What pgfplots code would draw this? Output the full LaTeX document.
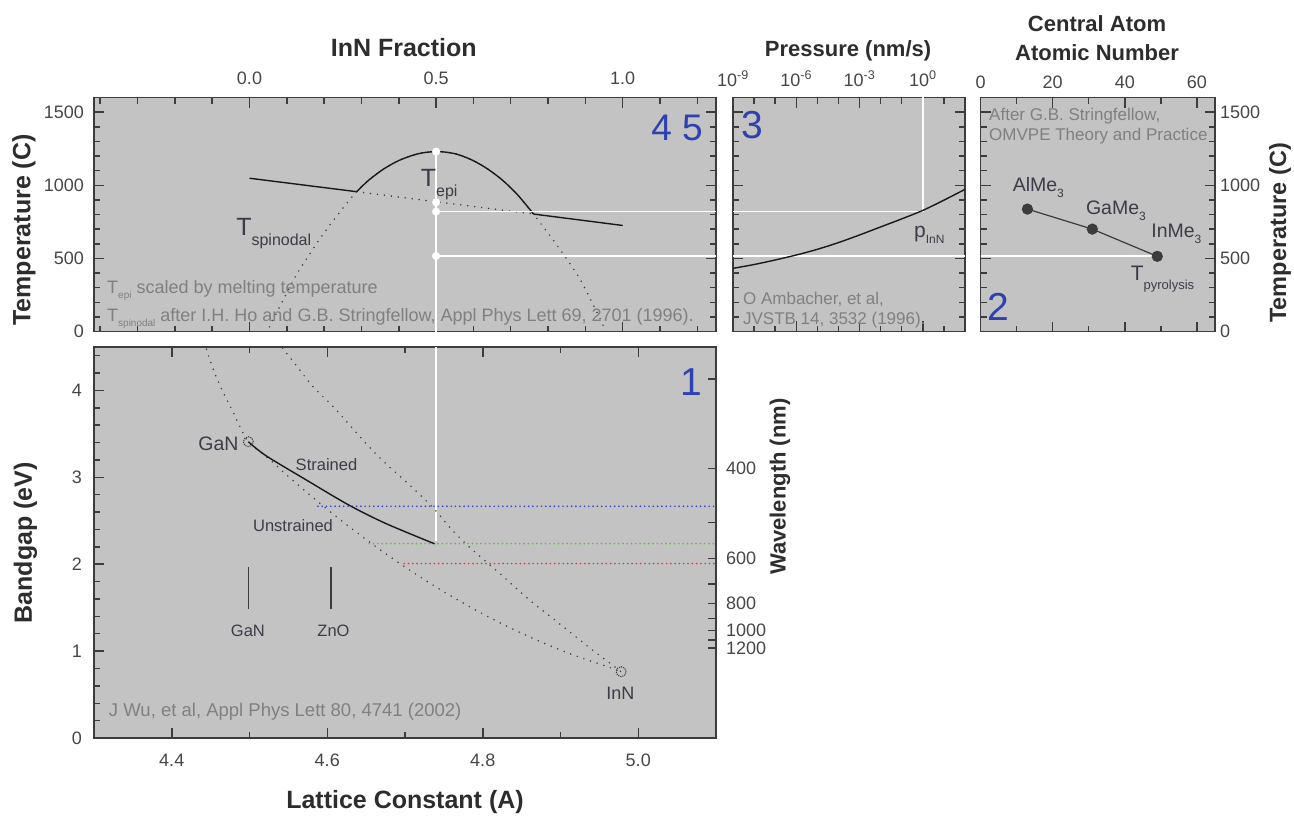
\documentclass[border=0pt]{standalone}
\usepackage{pgfplots}
\pgfplotsset{compat=1.18}
\usepackage{fontspec}
\setmainfont{Liberation Sans}
\definecolor{bg}{RGB}{195,195,195}
\definecolor{frame}{RGB}{60,60,60}
\definecolor{tickc}{RGB}{70,70,70}
\definecolor{lab}{RGB}{45,45,45}
\definecolor{note}{RGB}{128,128,128}
\definecolor{num}{RGB}{45,65,175}
\definecolor{crv}{RGB}{25,25,25}
\definecolor{dotc}{RGB}{60,60,60}
\definecolor{ann}{RGB}{60,60,72}
\definecolor{lblue}{RGB}{55,75,205}
\definecolor{lgreen}{RGB}{85,195,60}
\definecolor{lred}{RGB}{235,55,55}
\newcommand{\fs}[1]{\fontsize{#1}{#1}\selectfont}
\newcommand{\sbx}[3]{\raisebox{-#1}{\fs{#2}#3}}
\pgfplotsset{
  panel/.style={scale only axis, anchor=south west,
    axis background/.style={fill=bg},
    axis line style={frame, line width=1.8pt},
    tick style={frame, line width=1.5pt},
    major tick length=10pt, minor tick length=6pt,
    tick align=inside,
    tick label style={font=\fs{18}, text=tickc, inner sep=0pt},
    label style={font=\fs{25}\bfseries, text=lab},
  },
  dotl/.style={dotc, line width=1.7pt, line cap=round, dash pattern=on 0pt off 7pt},
  cdot/.style={line width=1.9pt, line cap=round, dash pattern=on 0pt off 4.3pt},
  wline/.style={white, line width=1.6pt},
  wdot/.style={only marks, mark=*, mark size=3.8pt, mark options={fill=white, draw=white}},
}
\begin{document}
\begin{tikzpicture}
\useasboundingbox (0,0) rectangle (1294pt,-816pt);

% ---------------- Panel 4 5 (InN fraction vs temperature)
\begin{axis}[panel, at={(94pt,-331.5pt)}, width=622pt, height=234pt,
  xmin=-0.416667, xmax=1.25, ymin=0, ymax=1600,
  xtick={0,0.5,1}, xticklabels={0.0,0.5,1.0},
  minor xtick={-0.4,-0.3,-0.2,-0.1,0.1,0.2,0.3,0.4,0.6,0.7,0.8,0.9,1.1,1.2},
  xticklabel pos=upper, xticklabel style={yshift=13pt},
  ytick={0,500,1000,1500}, yticklabels={0,500,1000,1500},
  minor ytick={100,200,300,400,600,700,800,900,1100,1200,1300,1400},
  yticklabel style={xshift=-10pt},
  xlabel={InN Fraction}, xlabel style={at={(axis description cs:0.498,1.212)}, anchor=center},
  ylabel={Temperature (C)}, ylabel style={at={(axis description cs:-0.1125,0.434)}, anchor=center},
]
% spinodal (dotted, full)
\addplot[dotl, smooth] coordinates {(0.045,-10) (0.054,33) (0.09,215) (0.125,385) (0.16,525) (0.197,665) (0.24,810) (0.287,956) (0.32,1036) (0.36,1112) (0.40,1169) (0.44,1207) (0.47,1224) (0.502,1230) (0.53,1225) (0.56,1209) (0.60,1168) (0.64,1108) (0.68,1030) (0.72,930) (0.761,803) (0.80,672) (0.833,557) (0.887,352) (0.945,56) (0.955,-5)};
% T_epi line dotted part
\addplot[dotl] coordinates {(0.287,956) (0.761,803)};
% solid parts
\addplot[crv, line width=1.4pt] coordinates {(0,1048) (0.287,956)};
\addplot[crv, line width=1.4pt, smooth] coordinates {(0.287,956) (0.32,1036) (0.36,1112) (0.40,1169) (0.44,1207) (0.47,1224) (0.502,1230) (0.53,1225) (0.56,1209) (0.60,1168) (0.64,1108) (0.68,1030) (0.72,930) (0.761,803)};
\addplot[crv, line width=1.4pt] coordinates {(0.761,803) (1,725)};
% white guide lines
\addplot[wline] coordinates {(0.5,1230) (0.5,0)};
\addplot[wline] coordinates {(0.5,820) (1.25,820)};
\addplot[wline] coordinates {(0.5,516) (1.25,516)};
\addplot[wdot] coordinates {(0.5,1230) (0.5,884) (0.5,820) (0.5,516)};
% texts
\node[anchor=center, font=\fs{37}, text=num] at (axis cs:1.1455,1391) {4 5};
\node[anchor=base west, inner sep=0pt, text=ann] at (axis cs:0.4587,993) {{\fs{25}T}\sbx{10pt}{16}{epi}};
\node[anchor=base west, inner sep=0pt, text=ann] at (axis cs:-0.0359,655) {{\fs{25}T}\sbx{10pt}{16}{spinodal}};
\node[anchor=base west, inner sep=0pt, text=note] at (axis cs:-0.3818,263) {{\fs{18}T}\sbx{5pt}{10}{epi}{\fs{18} scaled by melting temperature}};
\node[anchor=base west, inner sep=0pt, text=note] at (axis cs:-0.3818,65) {{\fs{18}T}\sbx{5pt}{10}{spinodal}{\fs{18} after I.H. Ho and G.B. Stringfellow, Appl Phys Lett 69, 2701 (1996).}};
\end{axis}

% ---------------- Panel 3 (pressure)
\begin{axis}[panel, at={(733pt,-331.5pt)}, width=232pt, height=234pt,
  xmode=log, xmin=1e-9, xmax=1e2, ymin=0, ymax=1600,
  xtick={1e-9,1e-6,1e-3,1}, xticklabels={10\textsuperscript{-9},10\textsuperscript{-6},10\textsuperscript{-3},10\textsuperscript{0}},
  minor xtick={1e-8,1e-7,1e-5,1e-4,1e-2,1e-1,1e1},
  xticklabel pos=upper, xticklabel style={yshift=11pt},
  ytick={0,500,1000,1500}, yticklabels={,,,},
  minor ytick={100,200,300,400,600,700,800,900,1100,1200,1300,1400},
  xlabel={Pressure (nm/s)}, xlabel style={font=\fs{22}\bfseries, at={(axis description cs:0.496,1.198)}, anchor=center},
]
\addplot[wline] coordinates {(1e-9,820) (1,820) (1,1700)};
\addplot[wline] coordinates {(1e-9,516) (1e2,516)};
\addplot[crv, line width=1.4pt, smooth] coordinates {(1e-9,432) (1e-8,458) (1e-7,489) (1e-6,523) (1e-5,562) (1e-4,608) (1e-3,660) (1e-2,715) (1e-1,770) (1,828) (1e1,898) (1e2,972)};
\node[anchor=center, font=\fs{39}, text=num] at (axis cs:7.9e-9,1412) {3};
\node[anchor=base west, inner sep=0pt, text=ann] at (axis cs:0.38,646) {{\fs{21}p}\sbx{6pt}{12}{InN}};
\node[anchor=base west, inner sep=0pt, text=note, font=\fs{17}] at (axis cs:2.95e-9,188) {O Ambacher, et al,};
\node[anchor=base west, inner sep=0pt, text=note, font=\fs{17}] at (axis cs:2.95e-9,51) {JVSTB 14, 3532 (1996).};
\end{axis}

% ---------------- Panel 2 (central atom)
\begin{axis}[panel, at={(980.5pt,-331.5pt)}, width=234.5pt, height=234pt,
  xmin=0, xmax=65, ymin=0, ymax=1600,
  xtick={0,20,40,60}, xticklabels={0,20,40,60}, minor xtick={10,30,50},
  xticklabel pos=upper, xticklabel style={yshift=9pt},
  ytick={0,500,1000,1500}, yticklabels={0,500,1000,1500},
  minor ytick={100,200,300,400,600,700,800,900,1100,1200,1300,1400},
  yticklabel pos=right, yticklabel style={xshift=5pt},
  xlabel={\begin{tabular}{c}Central Atom\\[7pt]Atomic Number\end{tabular}},
  xlabel style={font=\fs{22}\bfseries, at={(axis description cs:0.497,1.241)}, anchor=center},
  ylabel={Temperature (C)}, ylabel style={font=\fs{23.5}\bfseries, at={(axis description cs:1.277,0.421)}, anchor=center},
]
\addplot[wline] coordinates {(0,516) (49,516)};
\addplot[crv!85, line width=1.2pt, mark=*, mark size=5pt, mark options={fill=crv!85, draw=crv!85}] coordinates {(13,837) (31,700) (49,514)};
\node[anchor=base west, inner sep=0pt, text=ann] at (axis cs:8.9,954) {{\fs{19.5}AlMe}\sbx{6pt}{12}{3}};
\node[anchor=base west, inner sep=0pt, text=ann] at (axis cs:29.2,797) {{\fs{19.5}GaMe}\sbx{6pt}{12}{3}};
\node[anchor=base west, inner sep=0pt, text=ann] at (axis cs:47.3,646) {{\fs{19.5}InMe}\sbx{6pt}{12}{3}};
\node[anchor=base west, inner sep=0pt, text=ann] at (axis cs:41.6,349) {{\fs{21}T}\sbx{9pt}{13}{pyrolysis}};
\node[anchor=base west, inner sep=0pt, text=note, font=\fs{17}] at (axis cs:2.36,1445) {After G.B. Stringfellow,};
\node[anchor=base west, inner sep=0pt, text=note, font=\fs{17}] at (axis cs:2.36,1308) {OMVPE Theory and Practice};
\node[anchor=center, font=\fs{39}, text=num] at (axis cs:4.85,167) {2};
\end{axis}

% ---------------- Panel 1 (bandgap vs lattice)
\begin{axis}[panel, at={(94pt,-738pt)}, width=622pt, height=391pt,
  xmin=4.3, xmax=5.1, ymin=0, ymax=4.5,
  xtick={4.4,4.6,4.8,5.0}, xticklabels={4.4,4.6,4.8,5.0},
  minor xtick={4.5,4.7,4.9},
  xticklabel style={yshift=-16pt},
  ytick={0,1,2,3,4}, yticklabels={0,1,2,3,4},
  minor ytick={0.2,0.4,0.6,0.8,1.2,1.4,1.6,1.8,2.2,2.4,2.6,2.8,3.2,3.4,3.6,3.8,4.2,4.4},
  ytick pos=left, yticklabel style={xshift=-12pt},
  xlabel={Lattice Constant (A)}, xlabel style={at={(axis description cs:0.5,-0.163)}, anchor=center},
  ylabel={Bandgap (eV)}, ylabel style={at={(axis description cs:-0.11,0.499)}, anchor=center},
]
% coloured emission lines
\addplot[lblue, cdot] coordinates {(4.588,2.667) (5.1,2.667)};
\addplot[lgreen, cdot] coordinates {(4.654,2.237) (5.1,2.237)};
\addplot[lred, cdot] coordinates {(4.699,2.008) (5.1,2.008)};
% white vertical guide
\addplot[wline] coordinates {(4.74,4.6) (4.74,2.27)};
% unstrained (lower-left dotted)
\addplot[dotl, smooth] coordinates {(4.442,4.55) (4.453,4.25) (4.466,3.98) (4.479,3.75) (4.489,3.56) (4.4985,3.41) (4.524,3.22) (4.548,3.026) (4.572,2.84) (4.596,2.661) (4.62,2.489) (4.644,2.325) (4.668,2.167) (4.692,2.017) (4.716,1.874) (4.74,1.737) (4.764,1.609) (4.788,1.487) (4.812,1.372) (4.836,1.265) (4.86,1.164) (4.884,1.071) (4.908,0.985) (4.932,0.906) (4.956,0.835) (4.978,0.763)};
% strained-axis dotted (right)
\addplot[dotl, smooth] coordinates {(4.537,4.55) (4.56,4.29) (4.581,4.05) (4.607,3.82) (4.632,3.57) (4.656,3.33) (4.680,3.12) (4.705,2.92) (4.735,2.66) (4.760,2.40) (4.780,2.22) (4.803,2.04) (4.825,1.87) (4.846,1.70) (4.868,1.53) (4.891,1.37) (4.919,1.17) (4.940,1.02) (4.964,0.86) (4.978,0.763)};
% strained solid
\addplot[crv, line width=1.4pt, smooth] coordinates {(4.4985,3.41) (4.521,3.25) (4.573,2.97) (4.628,2.68) (4.675,2.47) (4.738,2.235)};
% end-point circles
\addplot[only marks, mark=o, mark size=5pt, mark options={draw=dotc, line width=1pt, dash pattern=on 1.2pt off 1pt}] coordinates {(4.4985,3.41) (4.978,0.763)};
% GaN / ZnO lattice marks
\addplot[dotc, line width=1.3pt] coordinates {(4.4985,1.49) (4.4985,1.97)};
\addplot[dotc, line width=1.3pt] coordinates {(4.605,1.49) (4.605,1.97)};
% texts
\node[anchor=center, font=\fs{39}, text=num] at (axis cs:5.068,4.10) {1};
\node[anchor=center, font=\fs{19.5}, text=ann] at (axis cs:4.46,3.39) {GaN};
\node[anchor=center, font=\fs{16.5}, text=ann] at (axis cs:4.599,3.15) {Strained};
\node[anchor=center, font=\fs{16.5}, text=ann] at (axis cs:4.556,2.44) {Unstrained};
\node[anchor=center, font=\fs{16.5}, text=ann] at (axis cs:4.498,1.235) {GaN};
\node[anchor=center, font=\fs{16.5}, text=ann] at (axis cs:4.608,1.235) {ZnO};
\node[anchor=center, font=\fs{18}, text=ann] at (axis cs:4.977,0.514) {InN};
\node[anchor=west, inner sep=0pt, font=\fs{18.5}, text=note] at (axis cs:4.319,0.30) {J Wu, et al, Appl Phys Lett 80, 4741 (2002)};
\end{axis}

% ---------------- Wavelength axis (right of panel 1)
\begin{axis}[scale only axis, anchor=south west, at={(94pt,-738pt)}, width=622pt, height=391pt,
  xmin=4.3, xmax=5.1, ymin=0, ymax=4.5,
  axis x line=none, axis y line*=right,
  y axis line style={frame, line width=1.8pt, -},
  tick style={frame, line width=1.5pt}, major tick length=8pt, tick align=inside,
  ytick={4.1333,3.1,2.48,2.0667,1.7714,1.55,1.3778,1.24,1.1273,1.0333},
  yticklabels={,400,,600,,800,,1000,,1200},
  tick label style={font=\fs{18}, text=tickc, inner sep=0pt},
  yticklabel style={xshift=10pt},
  ylabel={Wavelength (nm)},
  ylabel style={font=\fs{22}\bfseries, text=lab, at={(axis description cs:1.103,0.643)}, anchor=center},
]
\end{axis}
\end{tikzpicture}
\end{document}
